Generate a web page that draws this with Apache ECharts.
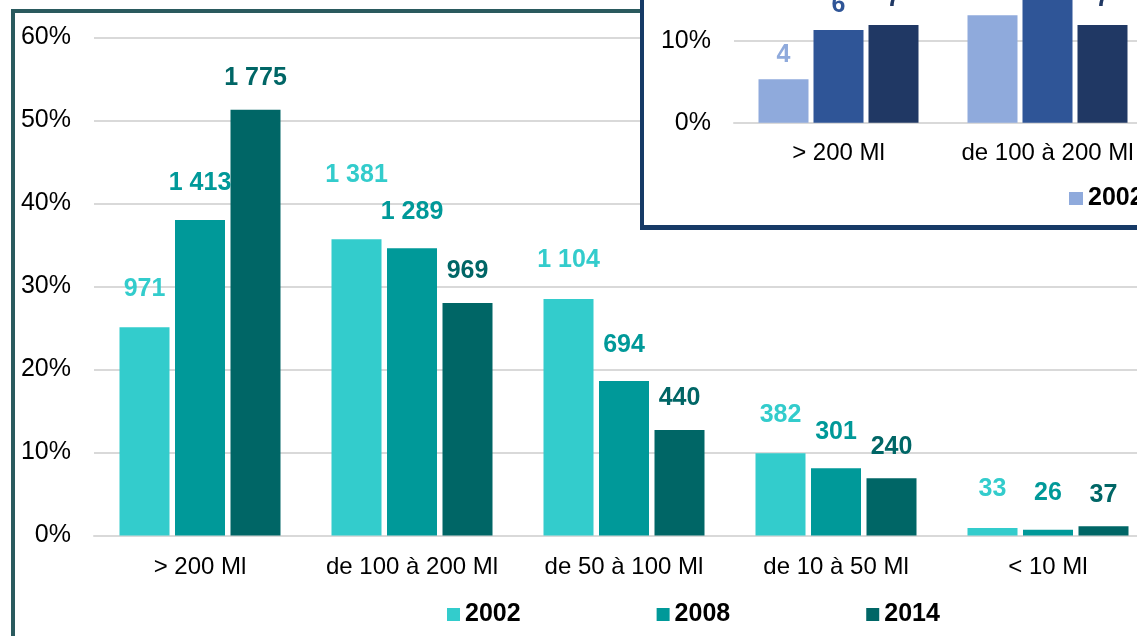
<!DOCTYPE html>
<html>
<head>
<meta charset="utf-8">
<script src="https://cdn.jsdelivr.net/npm/echarts@6/dist/echarts.min.js"></script>
<style>
  html, body { margin: 0; padding: 0; background: #fff; overflow: hidden; }
  #wrap { position: relative; width: 1137px; height: 636px; overflow: hidden; }
  #main { position: absolute; left: 0; top: 0; width: 1137px; height: 636px; }
  #frame {
    position: absolute; left: 11px; top: 9px; width: 1300px; height: 800px;
    border-left: 4px solid #2a5a5e; border-top: 4px solid #2a5a5e;
    pointer-events: none;
  }
  #insetBox {
    position: absolute; left: 640px; top: -300px; width: 600px; height: 530px;
    box-sizing: border-box; background: #fff;
    border-left: 4px solid #163a66; border-bottom: 5px solid #163a66;
  }
  #inset { width: 596px; height: 525px; }
</style>
</head>
<body>
<div id="wrap">
  <div id="main"></div>
  <div id="frame"></div>
  <div id="insetBox"><div id="inset"></div></div>
</div>
<script>
// main chart: share of each size class (%), counts shown as labels
var categories = ['> 200 Ml', 'de 100 à 200 Ml', 'de 50 à 100 Ml', 'de 10 à 50 Ml', '< 10 Ml']
var years = ['2002', '2008', '2014']
var share2002 = [25.1, 35.7, 28.5, 9.9, 0.9]
var share2008 = [38.0, 34.6, 18.6, 8.1, 0.7]
var share2014 = [51.3, 28.0, 12.7, 6.9, 1.1]
var count2002 = [971, 1381, 1104, 382, 33]
var count2008 = [1413, 1289, 694, 301, 26]
var count2014 = [1775, 969, 440, 240, 37]
var yTicks = [0, 10, 20, 30, 40, 50, 60]

// inset chart (only the left part is visible)
var insetCategories = ['> 200 Ml', 'de 100 à 200 Ml']
var insetShare2002 = [5.3, 13.1]
var insetShare2008 = [11.3, 17.0]
var insetShare2014 = [11.9, 11.9]
var insetCount2002 = [4, 10]
var insetCount2008 = [6, 9]
var insetCount2014 = [7, 7]

var font = "'Liberation Sans', Arial, sans-serif"

function fmt (n) {
  return String(n).replace(/\B(?=(\d{3})+(?!\d))/g, ' ')
}

function barSeries (name, values, counts, color, dist, gap) {
  return {
    name: name,
    type: 'bar',
    barWidth: 50,
    barGap: gap,
    itemStyle: { color: color },
    label: {
      show: true,
      position: 'top',
      distance: dist,
      color: color,
      fontFamily: font,
      fontSize: 25,
      fontWeight: 'bold',
      formatter: function (p) { return fmt(counts[p.dataIndex]) }
    },
    data: values.slice()
  }
}

var mainChart = echarts.init(document.getElementById('main'))
var s2002 = barSeries('2002', share2002, count2002, '#33cccc', 26, '11%')
// the 1 381 label sits higher in the original
s2002.data[1] = { value: share2002[1], label: { offset: [0, -26] } }

mainChart.setOption({
  animation: false,
  grid: { left: 94, top: 37.5, bottom: 100.5, width: 1060, outerBoundsMode: 'none' },
  legend: {
    data: years,
    left: 442,
    top: 597,
    icon: 'rect',
    itemWidth: 13,
    itemHeight: 13,
    itemGap: 136,
    textStyle: { fontFamily: font, fontSize: 25, fontWeight: 'bold', color: '#000' }
  },
  xAxis: {
    type: 'category',
    data: categories,
    axisTick: { show: false },
    axisLine: { lineStyle: { color: '#d9d9d9', width: 2 } },
    axisLabel: { interval: 0, margin: 20, fontFamily: font, fontSize: 24, color: '#000' }
  },
  yAxis: {
    type: 'value',
    min: yTicks[0],
    max: yTicks[yTicks.length - 1],
    interval: 10,
    axisLine: { show: false },
    axisTick: { show: false },
    splitLine: { lineStyle: { color: '#d9d9d9', width: 2 } },
    axisLabel: { margin: 23, fontFamily: font, fontSize: 25, color: '#000', formatter: '{value}%' }
  },
  series: [
    s2002,
    barSeries('2008', share2008, count2008, '#009999', 24, '11%'),
    barSeries('2014', share2014, count2014, '#006666', 19, '11%')
  ]
})

var insetChart = echarts.init(document.getElementById('inset'))
insetChart.setOption({
  animation: false,
  grid: { left: 90, top: 176.7, bottom: 102.3, width: 418, outerBoundsMode: 'none' },
  legend: {
    data: years,
    left: 420,
    top: 481,
    icon: 'rect',
    itemWidth: 14,
    itemHeight: 13,
    itemGap: 120,
    textStyle: { fontFamily: font, fontSize: 25, fontWeight: 'bold', color: '#000' }
  },
  xAxis: {
    type: 'category',
    data: insetCategories,
    axisTick: { show: false },
    axisLine: { lineStyle: { color: '#d9d9d9', width: 2 } },
    axisLabel: { interval: 0, margin: 19, fontFamily: font, fontSize: 24, color: '#000' }
  },
  yAxis: {
    type: 'value',
    min: 0,
    max: 30,
    interval: 10,
    axisLine: { show: false },
    axisTick: { show: false },
    splitLine: { lineStyle: { color: '#d9d9d9', width: 2 } },
    axisLabel: { margin: 23, fontFamily: font, fontSize: 25, color: '#000', formatter: '{value}%' }
  },
  series: [
    barSeries('2002', insetShare2002, insetCount2002, '#8faadc', 12, '10%'),
    barSeries('2008', insetShare2008, insetCount2008, '#2f5597', 12, '10%'),
    barSeries('2014', insetShare2014, insetCount2014, '#203864', 14, '10%')
  ]
})
</script>
</body>
</html>
